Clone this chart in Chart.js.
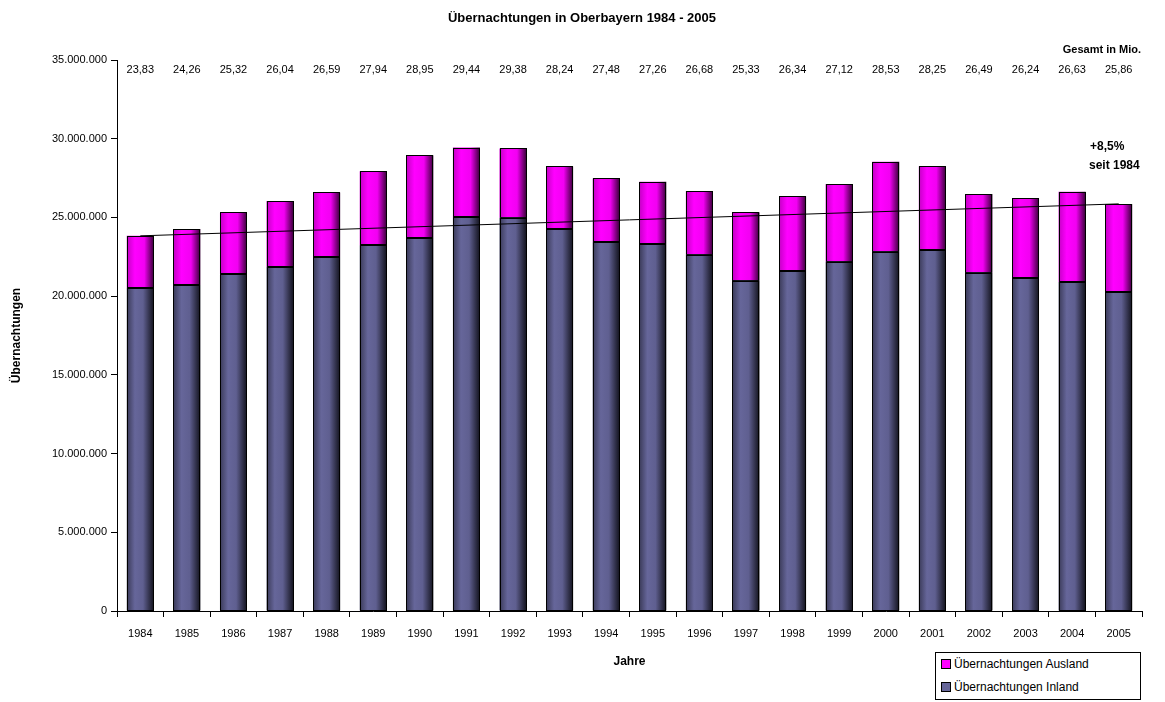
<!DOCTYPE html>
<html>
<head>
<meta charset="utf-8">
<script src="https://cdn.jsdelivr.net/npm/chart.js@4/dist/chart.umd.min.js"></script>
<style>
  html, body { margin: 0; padding: 0; background: #fff; }
  #wrap { position: relative; width: 1165px; height: 702px; }
  #legend {
    position: absolute; left: 935px; top: 652px; width: 204px; height: 46px;
    border: 1px solid #000; background: #fff;
    font: 12px "Liberation Sans", Arial, sans-serif; color: #000;
  }
  #legend div { height: 23px; line-height: 23px; padding-left: 5px; white-space: nowrap; }
  #legend span.box {
    display: inline-block; width: 8px; height: 8px; border: 1px solid #000;
    margin-right: 3px; vertical-align: -1px;
  }
</style>
</head>
<body>
<div id="wrap">
  <canvas id="chart" width="1165" height="702"></canvas>
  <div id="legend"></div>
</div>
<script>
// Data
const years = ['1984','1985','1986','1987','1988','1989','1990','1991','1992','1993','1994',
               '1995','1996','1997','1998','1999','2000','2001','2002','2003','2004','2005'];
const inland = [20520000, 20710000, 21390000, 21850000, 22470000, 23230000, 23690000, 25000000,
                24980000, 24240000, 23430000, 23290000, 22630000, 20980000, 21600000, 22180000,
                22820000, 22930000, 21480000, 21140000, 20900000, 20240000];
const ausland = [3310000, 3550000, 3930000, 4190000, 4120000, 4710000, 5260000, 4440000,
                 4400000, 4000000, 4050000, 3970000, 4050000, 4350000, 4740000, 4940000,
                 5710000, 5320000, 5010000, 5100000, 5730000, 5620000];
const totalLabels = ['23,83','24,26','25,32','26,04','26,59','27,94','28,95','29,44','29,38','28,24','27,48',
                     '27,26','26,68','25,33','26,34','27,12','28,53','28,25','26,49','26,24','26,63','25,86'];
// trend line: only first and last year carry a value
const trend = [23830000, null, null, null, null, null, null, null, null, null, null,
               null, null, null, null, null, null, null, null, null, null, 25860000];

const FONT = '"Liberation Sans", Arial, sans-serif';
const BAR_PCT = 0.58;

function formatDots(v) {
    return String(v).replace(/\B(?=(\d{3})+(?!\d))/g, '.');
}

// horizontal shading of each bar, like the old Excel gradient fill
function shaded(base, stops) {
    return context => {
        const chart = context.chart;
        const xs = chart.scales && chart.scales.x;
        if (!chart.chartArea || !xs || context.dataIndex === undefined) return base;
        const cx = xs.getPixelForValue(context.dataIndex);
        const half = (xs.width / years.length) * BAR_PCT / 2;
        const g = chart.ctx.createLinearGradient(cx - half, 0, cx + half, 0);
        stops.forEach(s => g.addColorStop(s[0], s[1]));
        return g;
    };
}

// crisp black outline round every bar segment
const barOutline = {
    id: 'barOutline',
    afterDatasetDraw(chart, args) {
        if (args.meta.type !== 'bar') return;
        const ctx = chart.ctx;
        ctx.save();
        ctx.strokeStyle = '#000';
        ctx.lineWidth = 1;
        args.meta.data.forEach(bar => {
            const p = bar.getProps(['x', 'y', 'base', 'width'], true);
            const l = Math.round(p.x - p.width / 2) + 0.5;
            const r = Math.round(p.x + p.width / 2) - 0.5;
            const t = Math.round(Math.min(p.y, p.base)) + 0.5;
            const b = Math.round(Math.max(p.y, p.base)) - 0.5;
            ctx.strokeRect(l, t, r - l, b - t);
        });
        ctx.restore();
    }
};

// titles and free text boxes
const annotations = {
    id: 'annotations',
    afterDraw(chart) {
        const ctx = chart.ctx;
        const x = chart.scales.x;
        const area = chart.chartArea;
        ctx.save();
        ctx.fillStyle = '#000';

        ctx.font = 'bold 13px ' + FONT;
        ctx.textAlign = 'center';
        ctx.textBaseline = 'middle';
        ctx.fillText('Übernachtungen in Oberbayern 1984 - 2005', 582, 18);

        ctx.font = 'bold 11px ' + FONT;
        ctx.textAlign = 'right';
        ctx.fillText('Gesamt in Mio.', 1141, 50);

        ctx.font = '11px ' + FONT;
        ctx.textAlign = 'center';
        totalLabels.forEach((t, i) => {
            ctx.fillText(t, x.getPixelForValue(i), 70);
        });

        ctx.font = 'bold 12px ' + FONT;
        ctx.textAlign = 'left';
        ctx.fillText('+8,5%', 1090, 147);
        ctx.fillText('seit 1984', 1089, 166);

        ctx.font = 'bold 12px ' + FONT;
        ctx.textAlign = 'center';
        ctx.fillText('Jahre', (area.left + area.right) / 2, 662);

        ctx.translate(17, (area.top + area.bottom) / 2);
        ctx.rotate(-Math.PI / 2);
        ctx.fillText('Übernachtungen', 0, 0);
        ctx.restore();
    }
};

document.addEventListener('DOMContentLoaded', () => {
    const ctx = document.getElementById('chart').getContext('2d');
    const chart = new Chart(ctx, {
        type: 'bar',
        data: {
            labels: years,
            datasets: [
                {
                    label: 'Übernachtungen Inland',
                    data: inland,
                    swatch: '#666699',
                    backgroundColor: shaded('#666699', [[0, '#3a3a58'], [0.3, '#66669a'], [0.6, '#5f5f90'], [1, '#12121c']]),
                    borderWidth: 0,
                    stack: 'bars',
                    order: 2
                },
                {
                    label: 'Übernachtungen Ausland',
                    data: ausland,
                    swatch: '#ff00ff',
                    backgroundColor: shaded('#ff00ff', [[0, '#c400c4'], [0.3, '#ff00ff'], [0.65, '#f200f2'], [1, '#360036']]),
                    borderWidth: 0,
                    stack: 'bars',
                    order: 2
                },
                {
                    type: 'line',
                    label: 'Trend',
                    data: trend,
                    borderColor: '#000',
                    borderWidth: 1,
                    pointRadius: 0,
                    spanGaps: true,
                    fill: false,
                    stack: 'trend',
                    order: 1
                }
            ]
        },
        options: {
            responsive: false,
            animation: false,
            layout: { padding: { left: 0, right: 23, top: 60, bottom: 0 } },
            plugins: {
                legend: { display: false },
                tooltip: { enabled: false },
                title: { display: false }
            },
            datasets: {
                bar: { barPercentage: BAR_PCT, categoryPercentage: 1 }
            },
            scales: {
                x: {
                    stacked: true,
                    grid: { display: true, drawOnChartArea: false, offset: true, color: '#000', tickLength: 6 },
                    border: { color: '#000' },
                    ticks: { color: '#000', font: { family: FONT, size: 11 }, padding: 10, maxRotation: 0, autoSkip: false },
                    afterFit: s => { s.height = 91; }
                },
                y: {
                    stacked: true,
                    min: 0,
                    max: 35000000,
                    grid: { display: true, drawOnChartArea: false, color: '#000', tickLength: 6 },
                    border: { color: '#000' },
                    ticks: {
                        stepSize: 5000000,
                        color: '#000',
                        font: { family: FONT, size: 11 },
                        padding: 4,
                        callback: v => formatDots(v)
                    },
                    afterFit: s => { s.width = 117; }
                }
            }
        },
        plugins: [barOutline, annotations]
    });

    // legend: Ausland above Inland, as in the reference
    const legend = document.getElementById('legend');
    [1, 0].forEach(i => {
        const ds = chart.data.datasets[i];
        const row = document.createElement('div');
        const box = document.createElement('span');
        box.className = 'box';
        box.style.background = ds.swatch;
        row.appendChild(box);
        row.appendChild(document.createTextNode(ds.label));
        legend.appendChild(row);
    });
});
</script>
</body>
</html>
